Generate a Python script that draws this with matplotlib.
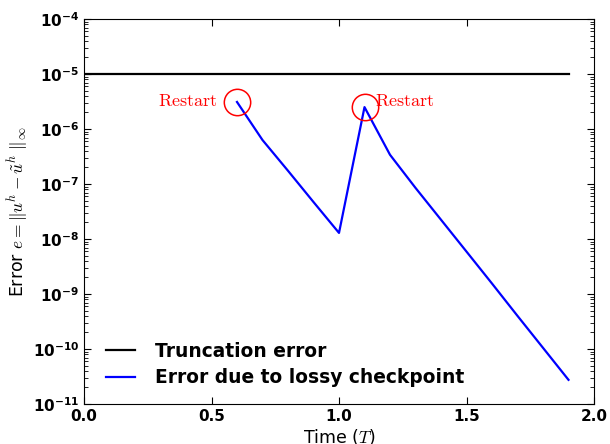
import matplotlib
matplotlib.use("Agg")
import matplotlib.pyplot as plt
from matplotlib.ticker import LogLocator, NullFormatter

# ---- data ----
trunc_t = [0.0, 1.9]
trunc_err = [1e-5, 1e-5]

time = [0.6, 0.7, 0.8, 0.9, 1.0, 1.1, 1.2, 1.3, 1.4, 1.5, 1.6, 1.7, 1.8, 1.9]
lossy_err = [3.1e-6, 6.3e-7, 1.74e-7, 4.7e-8, 1.29e-8,
             2.5e-6, 3.4e-7, 8.5e-8, 2.24e-8, 5.9e-9, 1.55e-9,
             4.0e-10, 1.05e-10, 2.75e-11]

restart_t = [0.6, 1.1]
restart_err = [3.1e-6, 2.5e-6]

plt.rcParams["mathtext.fontset"] = "cm"
plt.rcParams["font.weight"] = "bold"
plt.rcParams["xtick.direction"] = "in"
plt.rcParams["ytick.direction"] = "in"

fig = plt.figure(figsize=(6.1, 4.44), dpi=100)
ax = fig.add_axes([84 / 610, 40 / 444, 510 / 610, 385 / 444])

ax.plot(trunc_t, trunc_err, color="black", lw=1.6, label="Truncation error")
ax.plot(time, lossy_err, color="blue", lw=1.6,
        label="Error due to lossy checkpoint")
ax.plot(restart_t, restart_err, "o", mfc="none", mec="red", ms=19, mew=1.1)

ax.text(0.525, 3.2e-6, r"$\mathrm{Restart}$", color="red", fontsize=13,
        ha="right", va="center")
ax.text(1.143, 3.2e-6, r"$\mathrm{Restart}$", color="red", fontsize=13,
        ha="left", va="center")

ax.set_yscale("log")
ax.set_xlim(0, 2.0)
ax.set_ylim(1e-11, 1e-4)
ax.set_xticks([0.0, 0.5, 1.0, 1.5, 2.0])
ax.yaxis.set_major_locator(LogLocator(base=10, numticks=20))
ax.yaxis.set_minor_locator(LogLocator(base=10, subs=range(2, 10), numticks=20))
ax.yaxis.set_minor_formatter(NullFormatter())
ax.tick_params(which="both", top=True, right=True, labelsize=11)
ax.tick_params(which="major", length=5)
ax.tick_params(which="minor", length=3)

ax.set_xlabel(r"Time ($T$)", fontsize=12.5, fontweight="normal", labelpad=2)
ax.set_ylabel(r"Error $e=\|u^h-\tilde{u}^h\ \|_\infty$", fontsize=12.5,
              fontweight="normal", labelpad=2)

ax.legend(loc="lower left", frameon=False, fontsize=13.4,
          bbox_to_anchor=(0.01, 0.0), handlelength=1.55, handletextpad=1.1,
          labelspacing=0.4)

fig.savefig("out.png", dpi=100)
